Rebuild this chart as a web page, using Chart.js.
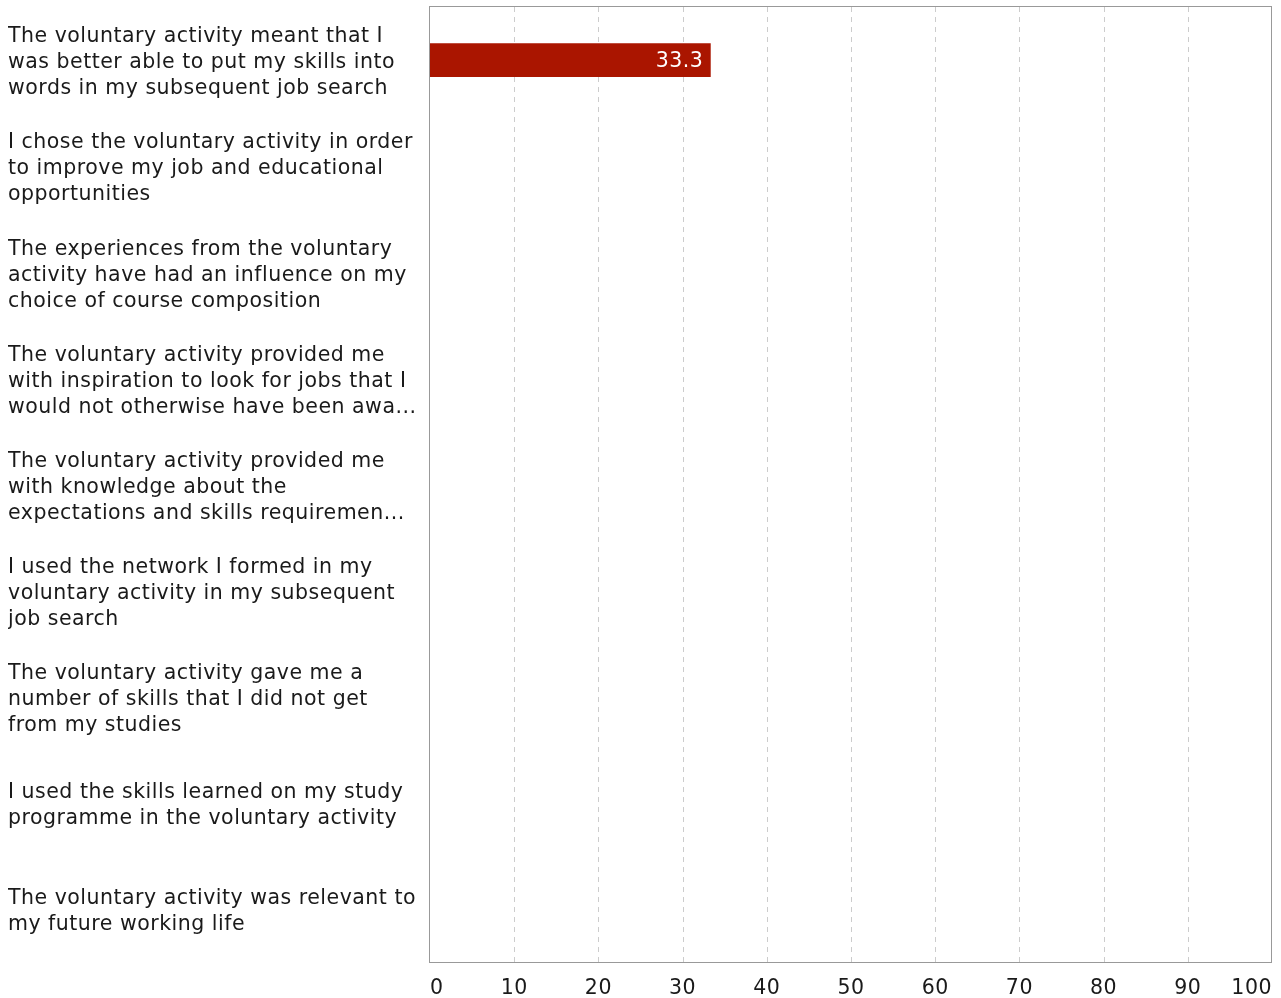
<!DOCTYPE html>
<html>
<head>
<meta charset="utf-8">
<script src="https://cdn.jsdelivr.net/npm/chart.js@4"></script>
<style>
  html, body { margin: 0; padding: 0; background: #fff; }
  #wrap { width: 1281px; height: 998px; }
</style>
</head>
<body>
<div id="wrap"><canvas id="chart"></canvas></div>
<script>
// data
const categories = [
    ["The voluntary activity meant that I", "was better able to put my skills into", "words in my subsequent job search"],
    ["I chose the voluntary activity in order", "to improve my job and educational", "opportunities"],
    ["The experiences from the voluntary", "activity have had an influence on my", "choice of course composition"],
    ["The voluntary activity provided me", "with inspiration to look for jobs that I", "would not otherwise have been awa..."],
    ["The voluntary activity provided me", "with knowledge about the", "expectations and skills requiremen..."],
    ["I used the network I formed in my", "voluntary activity in my subsequent", "job search"],
    ["The voluntary activity gave me a", "number of skills that I did not get", "from my studies"],
    ["I used the skills learned on my study", "programme in the voluntary activity"],
    ["The voluntary activity was relevant to", "my future working life"]
];
const values = [33.3, null, null, null, null, null, null, null, null];
const xTicks = [0, 10, 20, 30, 40, 50, 60, 70, 80, 90, 100];

const FONT = "'DejaVu Sans', Verdana, sans-serif";
const FSIZE = 20.5;

// valores dentro de la barra + etiquetas del eje x
const extras = {
    id: "extras",
    beforeDraw(chart) {
        // Verdana es algo mas ancha que DejaVu
        chart.ctx.letterSpacing = "0.5px";
    },
    beforeDatasetsDraw(chart) {
        // rejilla discontinua + marco
        const { ctx, chartArea: a } = chart;
        const x = chart.scales.x;
        ctx.save();
        ctx.strokeStyle = "#cccccc";
        ctx.lineWidth = 1;
        ctx.setLineDash([5, 5]);
        xTicks.slice(1, -1).forEach(t => {
            const px = Math.round(x.getPixelForValue(t)) + 0.5;
            ctx.beginPath();
            ctx.moveTo(px, a.top);
            ctx.lineTo(px, a.bottom);
            ctx.stroke();
        });
        ctx.setLineDash([]);
        ctx.strokeStyle = "#999999";
        ctx.strokeRect(Math.round(a.left) - 0.5, Math.round(a.top) - 0.5,
            Math.round(a.right - a.left), Math.round(a.bottom - a.top) + 1);
        ctx.restore();
    },
    afterDatasetsDraw(chart) {
        const ctx = chart.ctx;
        const meta = chart.getDatasetMeta(0);
        ctx.save();
        ctx.font = FSIZE + "px " + FONT;
        ctx.fillStyle = "#ffffff";
        ctx.textAlign = "right";
        ctx.textBaseline = "middle";
        meta.data.forEach((bar, i) => {
            if (values[i] == null) return;
            ctx.fillText(values[i].toFixed(1), bar.x - 7, bar.y + 2);
        });
        ctx.restore();
    },
    afterDraw(chart) {
        const ctx = chart.ctx;
        const x = chart.scales.x;
        ctx.save();
        ctx.font = FSIZE + "px " + FONT;
        ctx.fillStyle = "#1a1a1a";
        ctx.textBaseline = "middle";
        xTicks.forEach((t, i) => {
            const px = x.getPixelForValue(t);
            if (i === 0) ctx.textAlign = "left";
            else if (i === xTicks.length - 1) ctx.textAlign = "right";
            else ctx.textAlign = "center";
            ctx.fillText(String(t), px, 989);
        });
        ctx.restore();
    }
};

new Chart(document.getElementById("chart"), {
    type: "bar",
    data: {
        labels: categories,
        datasets: [{
            data: values,
            backgroundColor: "#aa1500",
            barThickness: 33
        }]
    },
    options: {
        indexAxis: "y",
        responsive: true,
        maintainAspectRatio: false,
        animation: false,
        layout: { padding: { left: 8, top: 7, right: 9, bottom: 0 } },
        plugins: { legend: { display: false }, tooltip: { enabled: false } },
        scales: {
            x: {
                min: 0, max: 100,
                afterBuildTicks(scale) { scale.ticks = xTicks.map(v => ({ value: v })); },
                afterFit(scale) {
                    scale.height = 36;
                    scale.paddingLeft = 0; scale.paddingRight = 0;
                    scale.paddingTop = 0; scale.paddingBottom = 0;
                },
                ticks: { display: false },
                grid: { display: false },
                border: { display: false }
            },
            y: {
                afterFit(scale) {
                    scale.width = 422;
                    scale.paddingLeft = 0; scale.paddingRight = 0;
                    scale.paddingTop = 0; scale.paddingBottom = 0;
                    // bajar un poco las etiquetas (DejaVu queda alta con "middle")
                    const base = Object.getPrototypeOf(scale).getPixelForTick;
                    scale.getPixelForTick = function(i) { return base.call(this, i) + 3; };
                },
                ticks: {
                    crossAlign: "far",
                    color: "#1a1a1a",
                    font: { family: FONT, size: FSIZE, lineHeight: "26px" },
                    padding: 0
                },
                grid: { display: false, drawTicks: false },
                border: { display: false }
            }
        }
    },
    plugins: [extras]
});
</script>
</body>
</html>
